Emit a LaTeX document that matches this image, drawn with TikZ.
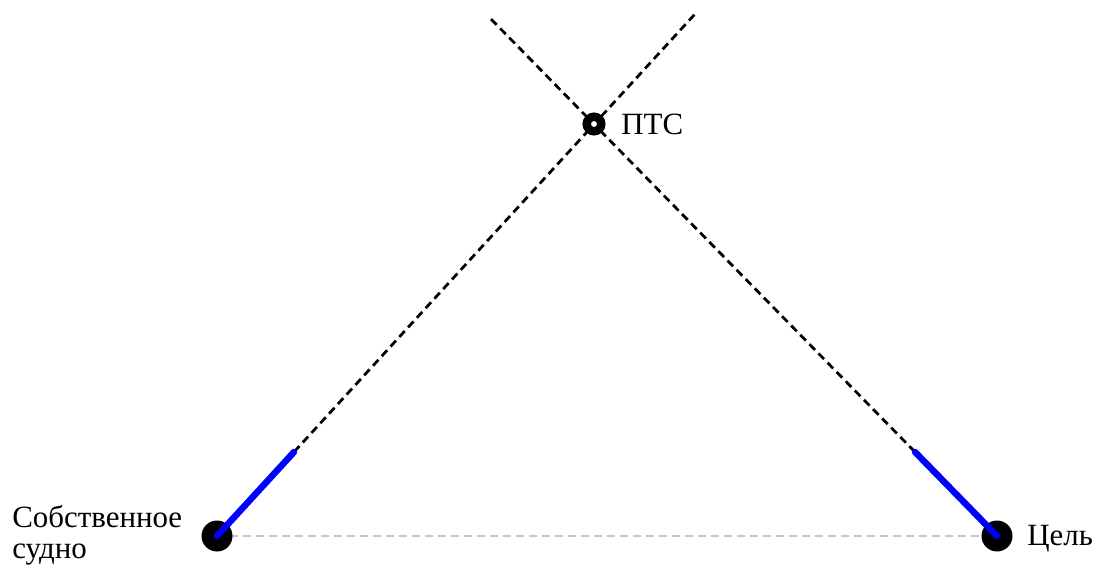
\documentclass[tikz,border=0pt]{standalone}
\usepackage{fontspec}
\setmainfont{Liberation Serif}
\usetikzlibrary{backgrounds}

\begin{document}
\begin{tikzpicture}[x=0.02cm,y=-0.02cm]
			\tikzset{ship/.style={circle,fill=black,inner sep=0pt,minimum size=0.62cm},
				ring/.style={circle,draw=black,fill=white,line width=0.17cm,inner sep=0pt,minimum size=0.29cm},
				course/.style={black,line width=0.055cm,dash pattern=on 0.16cm off 0.1cm},
				vec/.style={blue,line width=0.13cm,line cap=round},
				base/.style={gray!45,line width=0.045cm,dash pattern=on 0.16cm off 0.1cm},
				lbl/.style={inner sep=0pt,font=\fontsize{17.6}{20}\selectfont}}
			\useasboundingbox (0,0) rectangle (1097,567);
			
			\node[ship] (own) at (217,536) {};
			\node[ship] (tgt) at (997,536) {};
			\node[ring] (pts) at (594,124) {};
			\coordinate (ownend) at (294,452);
			\coordinate (tgtend) at (915,452);
			\coordinate (ownfar) at (695,14);
			\coordinate (tgtfar) at (488,16);
			
			\begin{scope}[on background layer]
				\draw[base] (own.center) -- (tgt.center);
				\draw[course] (ownend) -- (ownfar);
				\draw[course] (tgtend) -- (tgtfar);
			\end{scope}
			\draw[vec] (own.center) -- (ownend);
			\draw[vec] (tgt.center) -- (tgtend);
			
			\node[lbl,anchor=base west] (ptslbl) at (621,135) {ПТС};
			\node[lbl,anchor=base west] (tgtlbl) at (1027,545) {Цель};
			\node[lbl,anchor=base west] (ownlbl) at (12,527) {Собственное};
			\node[lbl,anchor=base west] (ownlbl2) at (12,558) {судно};
		\end{tikzpicture}
\end{document}
